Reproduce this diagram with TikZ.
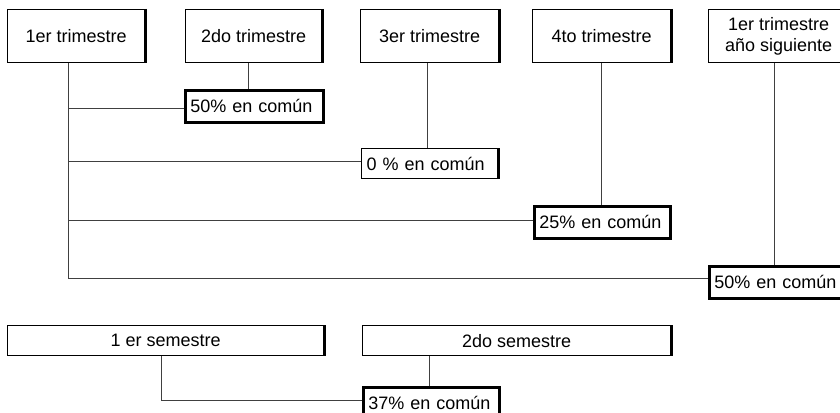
\documentclass[tikz,border=0pt]{standalone}
\usepackage{fontspec}
\setmainfont{Liberation Sans}
\begin{document}
\begin{tikzpicture}[x=1pt,y=-1pt,
  every node/.style={font=\fontsize{18}{21}\selectfont},
  topbox/.style={draw, line width=1.3pt, fill=white, anchor=north west, inner sep=0pt, align=center},
  kid/.style={draw, line width=1.3pt, fill=white, anchor=north west, inner xsep=5pt, inner ysep=0pt, align=left},
  heavy/.style={line width=2.6pt},
  conn/.style={draw=black!75, line width=1pt},
  edge/.style={line width=2.6pt}]
\useasboundingbox (0,0) rectangle (840,412);
\fill[white] (0,0) rectangle (840,412);
\clip (0,0) rectangle (840,412);

% top boxes
\node[topbox, minimum width=137pt, minimum height=53pt] (q1) at (7,9) {1er trimestre};
\node[topbox, minimum width=136pt, minimum height=53pt] (q2) at (185,9) {2do trimestre};
\node[topbox, minimum width=138pt, minimum height=53pt] (q3) at (360,9) {3er trimestre};
\node[topbox, minimum width=138pt, minimum height=53pt] (q4) at (532,9) {4to trimestre};
\node[topbox, minimum width=140pt, minimum height=53pt] (q5) at (708,9) {1er trimestre\\año siguiente};

% result boxes
\node[kid, heavy, text width=128pt, minimum height=32pt] (c2) at (184,89) {50\% en común};
\node[kid, text width=126pt, minimum height=30pt] (c3) at (361,148) {0 \% en común};
\node[kid, heavy, text width=126pt, minimum height=32pt] (c4) at (533,205) {25\% en común};
\node[kid, heavy, text width=130pt, minimum height=32pt] (c5) at (708,265) {50\% en común};

% semesters
\node[topbox, minimum width=316pt, minimum height=30pt] (s1) at (7,325) {1 er semestre};
\node[topbox, minimum width=308pt, minimum height=30pt] (s2) at (362,325) {2do semestre};
\node[kid, heavy, text width=126pt, minimum height=32pt] (cs) at (362,386) {37\% en común};

\foreach \n in {q1,q2,q3,q4,c3,s1,s2}
  \draw[edge] (\n.north east) -- (\n.south east);

% connectors
\coordinate (tr) at ([xshift=-7.5pt]q1.south);
\draw[conn] (tr) |- ([yshift=4pt]c5.west);
\draw[conn] ([yshift=-2.5pt]c2.west) -- ([yshift=-2.5pt]tr |- c2.west);
\draw[conn] ([yshift=2pt]c3.west) -- ([yshift=2pt]tr |- c3.west);
\draw[conn] ([yshift=2pt]c4.west) -- ([yshift=2pt]tr |- c4.west);

\draw[conn] ([xshift=-5pt]q2.south) -- ([xshift=-5pt]q2.south |- c2.north);
\draw[conn] ([xshift=-2pt]q3.south) -- ([xshift=-2pt]q3.south |- c3.north);
\draw[conn] (q4.south) -- (q4.south |- c4.north);
\draw[conn] ([xshift=-4pt]q5.south) -- ([xshift=-4pt]q5.south |- c5.north);

\draw[conn] ([xshift=-4pt]s1.south) |- ([yshift=3pt]cs.west);
\draw[conn] ([xshift=-2pt]cs.north) -- ([xshift=-2pt]cs.north |- s2.south);
\end{tikzpicture}
\end{document}
